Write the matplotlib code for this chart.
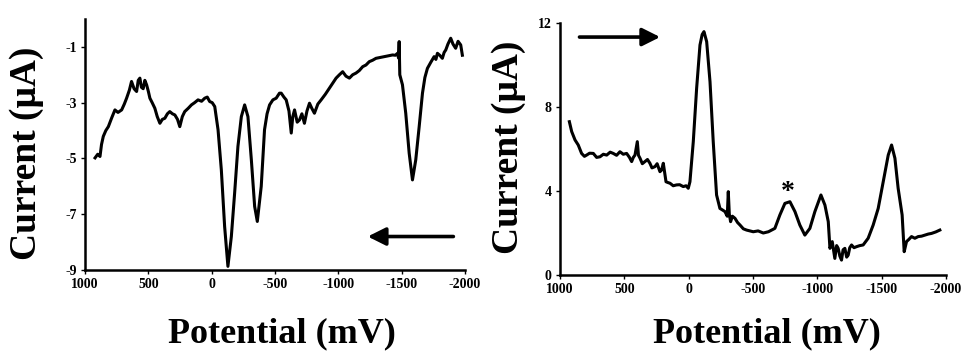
import matplotlib.pyplot as plt

# left panel: cathodic scan
left_mv = [921, 900, 882, 870, 856, 836, 816, 790, 764, 740, 711, 690, 672, 650, 633, 613, 593, 580,
           567, 555, 541, 528, 514, 500, 488, 470, 449, 430, 409, 390, 370, 350, 331, 310, 291, 270,
           252, 232, 213, 185, 160, 135, 108, 80, 55, 35, 16, -4, -24, -50, -76, -102, -128, -155,
           -181, -207, -234, -260, -286, -313, -339, -360, -391, -417, -437, -457, -483, -509, -535,
           -549, -570, -588, -610, -628, -640, -654, -675, -693, -712, -732, -752, -772, -790, -811,
           -838, -864, -897, -929, -955, -982, -1008, -1034, -1060, -1087, -1113, -1139, -1165, -1192,
           -1218, -1244, -1270, -1297, -1330, -1362, -1395, -1428, -1450, -1467, -1475, -1480, -1485,
           -1506, -1532, -1559, -1585, -1611, -1638, -1664, -1683, -1703, -1730, -1756, -1770, -1782,
           -1800, -1821, -1835, -1848, -1865, -1887, -1905, -1926, -1945, -1966, -1979]
left_ua = [-4.98, -4.85, -4.93, -4.5, -4.21, -4.0, -3.86, -3.55, -3.26, -3.35, -3.26, -3.05, -2.84,
           -2.55, -2.24, -2.5, -2.6, -2.2, -2.12, -2.45, -2.5, -2.2, -2.36, -2.6, -2.84, -3.0, -3.2,
           -3.5, -3.74, -3.6, -3.56, -3.4, -3.32, -3.4, -3.44, -3.6, -3.86, -3.5, -3.32, -3.2, -3.08,
           -3.0, -2.9, -2.95, -2.84, -2.8, -2.96, -3.0, -3.14, -3.97, -5.41, -7.44, -8.87, -7.8, -6.24,
           -4.57, -3.5, -3.08, -3.5, -5.05, -6.72, -7.26, -6.0, -3.97, -3.4, -3.08, -2.9, -2.84, -2.66,
           -2.66, -2.8, -2.9, -3.3, -4.09, -3.5, -3.26, -3.7, -3.62, -3.4, -3.74, -3.3, -3.02, -3.2,
           -3.38, -3.05, -2.9, -2.7, -2.48, -2.3, -2.12, -2.0, -1.89, -2.05, -2.12, -2.0, -1.94, -1.85,
           -1.71, -1.65, -1.53, -1.48, -1.41, -1.38, -1.35, -1.32, -1.29, -1.3, -1.23, -1.4, -0.81,
           -2.0, -2.36, -3.38, -4.81, -5.77, -5.05, -3.86, -2.66, -2.1, -1.77, -1.55, -1.35, -1.45,
           -1.23, -1.3, -1.41, -1.2, -1.11, -0.9, -0.69, -0.9, -1.05, -0.8, -0.93, -1.3]

# right panel: anodic scan
right_mv = [927, 909, 883, 858, 832, 810, 793, 770, 741, 715, 689, 663, 637, 610, 586, 560, 534, 508,
            482, 460, 443, 430, 417, 399, 390, 378, 360, 340, 320, 301, 285, 262, 245, 223, 210, 197,
            176, 160, 145, 120, 94, 70, 42, 20, 3, -10, -36, -62, -88, -105, -119, -140, -166, -191,
            -217, -243, -262, -282, -300, -308, -316, -326, -340, -360, -380, -399, -425, -450, -476,
            -502, -540, -580, -620, -670, -709, -748, -787, -826, -864, -903, -942, -981, -1028,
            -1059, -1085, -1098, -1116, -1136, -1150, -1162, -1175, -1188, -1200, -1214, -1228, -1240,
            -1252, -1266, -1285, -1305, -1330, -1356, -1395, -1434, -1473, -1512, -1551, -1577, -1603,
            -1628, -1659, -1675, -1693, -1712, -1732, -1758, -1784, -1810, -1836, -1862, -1887, -1920,
            -1952]
right_ua = [7.3, 6.83, 6.43, 6.19, 5.79, 5.65, 5.71, 5.8, 5.79, 5.6, 5.63, 5.75, 5.71, 5.85, 5.79,
            5.7, 5.87, 5.75, 5.79, 5.6, 5.4, 5.6, 5.71, 6.35, 5.7, 5.56, 5.3, 5.4, 5.5, 5.32, 5.1, 5.16,
            5.3, 4.92, 5.0, 5.32, 4.44, 4.4, 4.37, 4.25, 4.29, 4.3, 4.21, 4.25, 4.13, 4.44, 6.35, 8.89,
            10.95, 11.45, 11.59, 11.11, 9.2, 6.35, 3.81, 3.17, 3.1, 3.02, 2.8, 3.97, 2.9, 2.54, 2.8,
            2.7, 2.5, 2.38, 2.2, 2.14, 2.1, 2.06, 2.1, 2.0, 2.06, 2.22, 2.86, 3.41, 3.49, 3.02, 2.38,
            1.9, 2.22, 3.02, 3.81, 3.33, 2.54, 1.27, 1.59, 0.79, 1.4, 1.27, 0.9, 0.71, 1.2, 1.27, 0.85,
            0.95, 1.3, 1.43, 1.3, 1.35, 1.4, 1.43, 1.75, 2.38, 3.17, 4.44, 5.71, 6.19, 5.56, 4.13, 2.86,
            1.11, 1.59, 1.7, 1.83, 1.75, 1.83, 1.85, 1.9, 1.95, 1.98, 2.05, 2.14]

xticks = [1000, 500, 0, -500, -1000, -1500, -2000]
xtick_labels = ['1000', '500', '0', '-500', '-1000', '-1500', '-2000']
left_yticks = [-1, -3, -5, -7, -9]
right_yticks = [0, 4, 8, 12]

plt.rcParams['font.family'] = ['Liberation Serif', 'DejaVu Serif']
plt.rcParams['font.weight'] = 'bold'

fig = plt.figure(figsize=(9.61, 3.51), dpi=100)
ax1 = fig.add_axes([0.0885, 0.2308, 0.3954, 0.7151])
ax2 = fig.add_axes([0.5827, 0.2165, 0.4017, 0.718])

for ax in (ax1, ax2):
    for side in ('top', 'right'):
        ax.spines[side].set_visible(False)
    for side in ('left', 'bottom'):
        ax.spines[side].set_linewidth(1.8)
    ax.set_xlim(1000, -2000)
    ax.set_xticks(xticks)
    ax.set_xticklabels(xtick_labels)
    ax.tick_params(direction='out', length=3, width=1, labelsize=10, pad=3)

ax1.plot(left_mv, left_ua, color='black', lw=2.2)
ax1.set_ylim(-9, 0)
ax1.set_yticks(left_yticks)
ax1.set_yticklabels([str(v) for v in left_yticks])
ax1.annotate('', xy=(-1210, -7.8), xytext=(-1930, -7.8),
             arrowprops=dict(arrowstyle='-|>', lw=2.6, color='black', mutation_scale=27))

ax2.plot(right_mv, right_ua, color='black', lw=2.2)
ax2.set_ylim(0, 12)
ax2.set_yticks(right_yticks)
ax2.set_yticklabels([str(v) for v in right_yticks])
ax2.annotate('', xy=(200, 11.33), xytext=(870, 11.33),
             arrowprops=dict(arrowstyle='-|>', lw=2.6, color='black', mutation_scale=27))
ax2.text(-771, 3.95, '*', ha='center', va='center', fontsize=20, fontweight='bold')

for ax in (ax1, ax2):
    for lab in ax.get_xticklabels() + ax.get_yticklabels():
        lab.set_fontweight('bold')

fig.text(282 / 961, 1 - 334 / 351, 'Potential (mV)', ha='center', va='center',
         fontsize=26, fontweight='bold')
fig.text(767 / 961, 1 - 334 / 351, 'Potential (mV)', ha='center', va='center',
         fontsize=26, fontweight='bold')
fig.text(27 / 961, 1 - 153 / 351, 'Current (μA)', ha='center', va='center', rotation=90,
         fontsize=27, fontweight='bold')
fig.text(508 / 961, 1 - 147 / 351, 'Current (μA)', ha='center', va='center', rotation=90,
         fontsize=27, fontweight='bold')

fig.savefig('out.png', dpi=100)
